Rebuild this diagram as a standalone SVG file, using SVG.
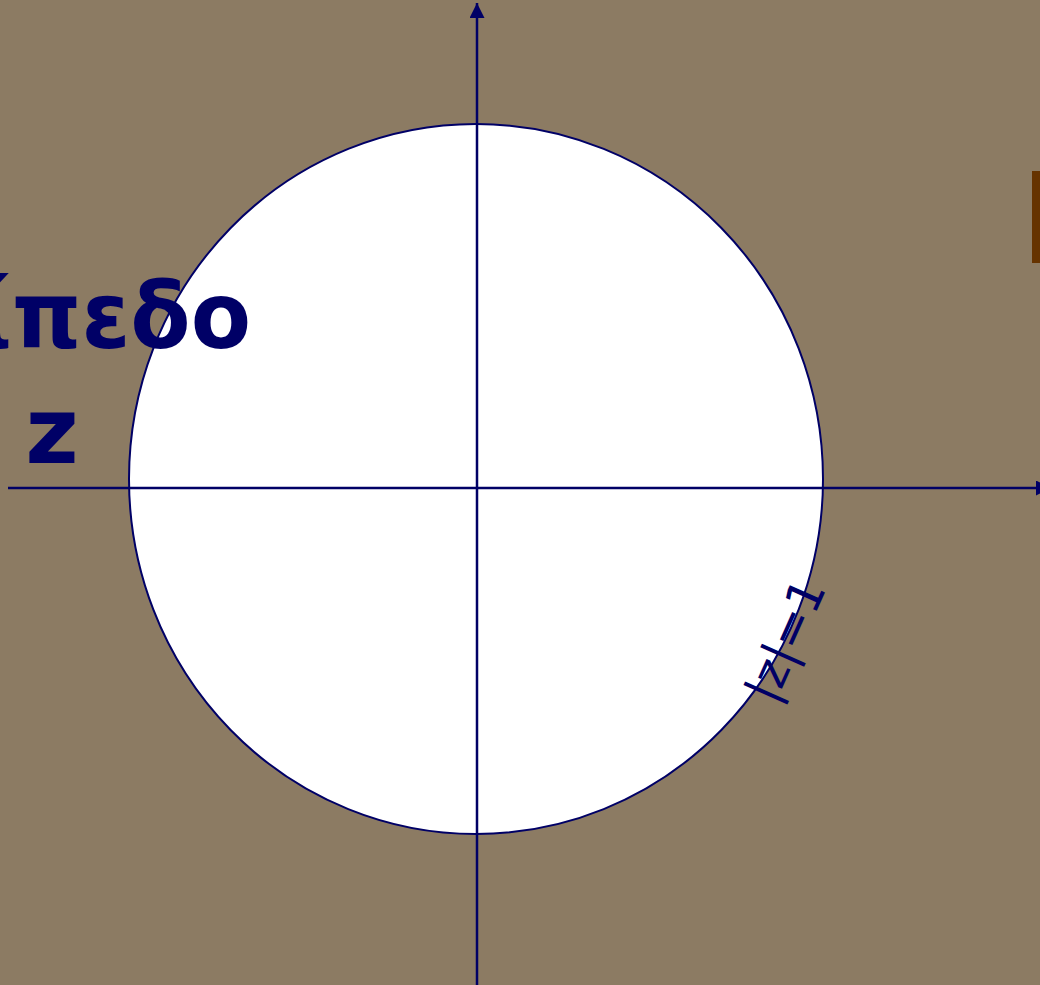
<svg xmlns="http://www.w3.org/2000/svg" width="1040" height="985" viewBox="0 0 1040 985">
<style>
.ax{stroke:#000066;stroke-width:2.5;fill:none}
.t{font-family:"DejaVu Sans",Verdana,sans-serif;font-weight:bold;fill:#000066}
</style>
<defs>
<marker id="ar" viewBox="0 0 10 10" refX="10" refY="5" markerWidth="6" markerHeight="6" markerUnits="strokeWidth" orient="auto">
<path d="M0,0 L10,5 L0,10 z" fill="#000066"/>
</marker>
</defs>
<rect width="1040" height="985" fill="#8C7B63"/>
<rect x="1032" y="171" width="8" height="92" fill="#663300"/>
<g id="circle"><ellipse cx="476" cy="479" rx="347" ry="355" fill="#ffffff" stroke="#000066" stroke-width="2"/></g>
<g id="axes">
<line class="ax" x1="477" y1="985" x2="477" y2="3" marker-end="url(#ar)"/>
<line class="ax" x1="8" y1="488" x2="1051" y2="488" marker-end="url(#ar)"/>
</g>
<g id="title">
<text class="t" font-size="92" text-anchor="end" transform="translate(251,348) scale(0.955,1)">ίπεδο</text>
<text class="t" x="52" y="463" font-size="92" text-anchor="middle">z</text>
</g>
<g id="label">
<text x="0" y="0" font-family="DejaVu Sans,sans-serif" font-size="48" fill="#000066" text-anchor="middle" dominant-baseline="central" transform="translate(785,640) rotate(-66)">|z|=1</text>
</g>
</svg>
